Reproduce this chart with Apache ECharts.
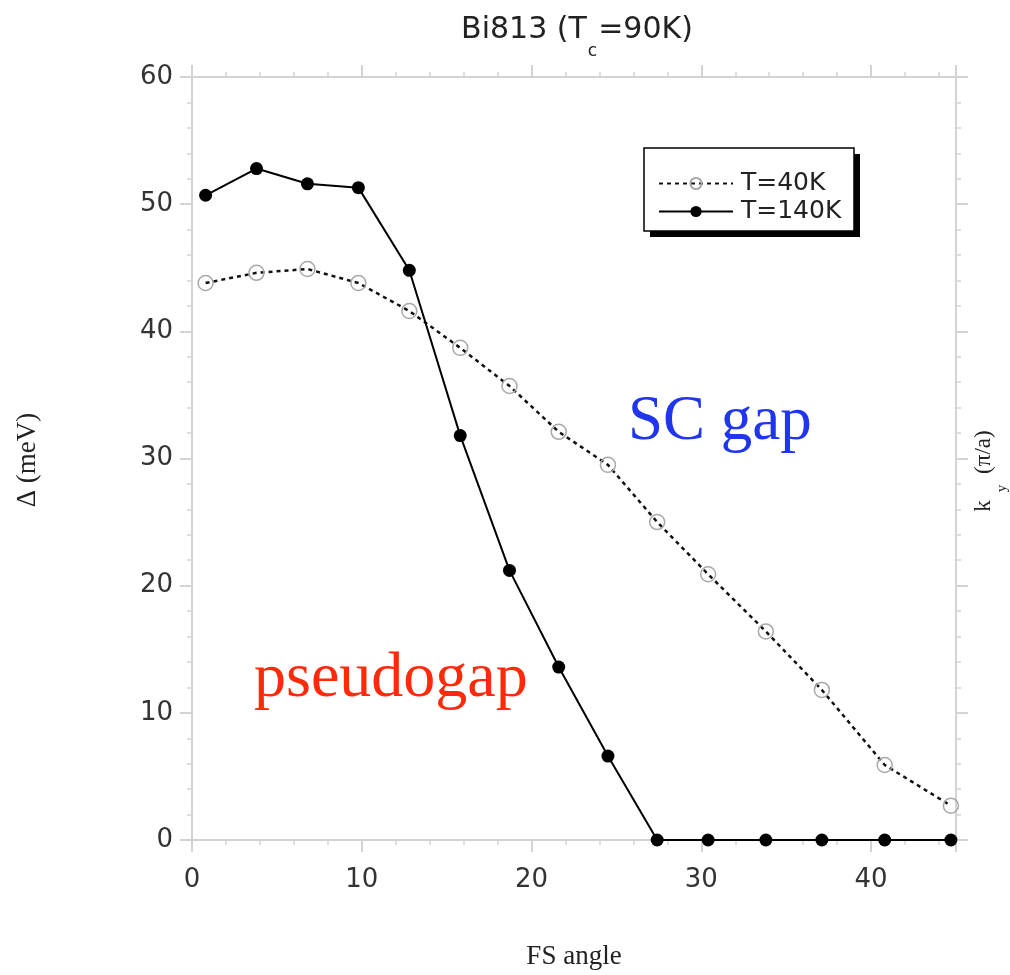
<!DOCTYPE html>
<html>
<head>
<meta charset="utf-8">
<script src="https://cdn.jsdelivr.net/npm/echarts@6/dist/echarts.min.js"></script>
<style>html,body{margin:0;padding:0;background:#fff;}#c{width:1010px;height:975px;}</style>
</head>
<body>
<div id="c"></div>
<script>
const fsAngle = [0.8, 3.8, 6.8, 9.8, 12.8, 15.8, 18.7, 21.6, 24.5, 27.4, 30.4, 33.8, 37.1, 40.8, 44.7];
const gap40K  = [43.8, 44.6, 44.9, 43.8, 41.6, 38.7, 35.7, 32.1, 29.5, 25.0, 20.9, 16.4, 11.8, 5.9, 2.7];
const gap140K = [50.7, 52.8, 51.6, 51.3, 44.8, 31.8, 21.2, 13.6, 6.6, 0, 0, 0, 0, 0, 0];
const xTicks = [0, 10, 20, 30, 40];
const yTicks = [0, 10, 20, 30, 40, 50, 60];
const seriesNames = ['T=40K', 'T=140K'];

const axisGray = '#d3d3d3';
const sans = 'DejaVu Sans, Verdana, sans-serif';
const serif = 'Liberation Serif, Times New Roman, serif';

function pairs(xs, ys) { return xs.map((x, i) => [x, ys[i]]); }

const baseAxis = {
  axisLine: { show: true, onZero: false, lineStyle: { color: axisGray, width: 2 } },
  axisTick: { show: true, inside: false, length: 12, lineStyle: { color: axisGray, width: 2 } },
  minorTick: { show: true, splitNumber: 5, length: 5, lineStyle: { color: axisGray, width: 1.5 } },
  splitLine: { show: false }
};

const chart = echarts.init(document.getElementById('c'));
chart.setOption({
  animation: false,
  backgroundColor: '#fff',
  title: {
    text: '{a|Bi813 (T}{s|c}{a|=90K)}',
    left: 577, top: 15, textAlign: 'center', padding: 0,
    textStyle: {
      rich: {
        a: { fontFamily: sans, fontSize: 30, lineHeight: 30, fontWeight: 'normal', color: '#222', verticalAlign: 'top' },
        s: { fontFamily: sans, fontSize: 17, lineHeight: 17, fontWeight: 'normal', color: '#222', verticalAlign: 'top', padding: [28, 1, 0, 1] }
      }
    }
  },
  grid: { left: 192, top: 77, right: 54, bottom: 133 },
  legend: {
    data: seriesNames,
    orient: 'vertical',
    left: 658, top: 171,
    padding: 0,
    itemGap: 3,
    itemWidth: 74, itemHeight: 14,
    z: 20,
    textStyle: { fontFamily: sans, fontSize: 25, color: '#222', padding: [0, 0, 0, 3] }
  },
  xAxis: [
    Object.assign({}, baseAxis, {
      type: 'value', position: 'bottom', min: 0, max: 45, interval: 10,
      axisLabel: { color: '#333', fontFamily: sans, fontSize: 26, margin: 27,
        formatter: v => xTicks.includes(v) ? String(v) : '' },
      name: 'FS angle', nameLocation: 'middle', nameGap: 103,
      nameTextStyle: { fontFamily: serif, fontSize: 27, color: '#222' }
    }),
    Object.assign({}, baseAxis, {
      type: 'value', position: 'top', min: 0, max: 45, interval: 10,
      axisLabel: { show: false }
    })
  ],
  yAxis: [
    Object.assign({}, baseAxis, {
      type: 'value', position: 'left', min: 0, max: 60, interval: 10,
      axisLabel: { color: '#333', fontFamily: sans, fontSize: 26, margin: 19,
        formatter: v => yTicks.includes(v) ? String(v) : '' }
    }),
    Object.assign({}, baseAxis, {
      type: 'value', position: 'right', min: 0, max: 60, interval: 10,
      axisLabel: { show: false }
    })
  ],
  series: [
    {
      name: seriesNames[0], type: 'line', xAxisIndex: 0, yAxisIndex: 0,
      data: pairs(fsAngle, gap40K),
      symbol: 'circle', symbolSize: 15,
      lineStyle: { color: '#111', width: 2.5, type: [4, 4] },
      itemStyle: { color: 'rgba(255,255,255,0)', borderColor: '#a8a8a8', borderWidth: 1.5 },
      z: 2
    },
    {
      name: seriesNames[1], type: 'line', xAxisIndex: 0, yAxisIndex: 0,
      data: pairs(fsAngle, gap140K),
      symbol: 'circle', symbolSize: 13,
      lineStyle: { color: '#000', width: 2 },
      itemStyle: { color: '#000' },
      z: 3
    }
  ],
  graphic: [
    { type: 'rect', z: 10, shape: { x: 650, y: 154, width: 210, height: 83 }, style: { fill: '#000' } },
    { type: 'rect', z: 11, shape: { x: 644, y: 148, width: 210, height: 83 }, style: { fill: '#fff', stroke: '#000', lineWidth: 1.5 } },
    { type: 'text', x: 28, y: 460, rotation: Math.PI / 2, z: 5,
      style: { text: 'Δ (meV)', fontFamily: serif, fontSize: 27, fill: '#222', align: 'center', verticalAlign: 'middle' } },
    { type: 'text', x: 984, y: 471, rotation: Math.PI / 2, z: 5,
      style: {
        text: '{a|k}{s|y}{a| (π/a)}', align: 'center', verticalAlign: 'middle',
        rich: {
          a: { fontFamily: serif, fontSize: 23, lineHeight: 23, fill: '#222', verticalAlign: 'top' },
          s: { fontFamily: serif, fontSize: 15, lineHeight: 15, fill: '#222', verticalAlign: 'top', padding: [22, 5, 0, 8] }
        }
      } },
    { type: 'text', left: 628, top: 391, z: 5, style: { text: 'SC gap', fontFamily: serif, fontSize: 63, fill: '#1f35f0' } },
    { type: 'text', left: 254, top: 647, z: 5, style: { text: 'pseudogap', fontFamily: serif, fontSize: 64, fill: '#ff2a0a' } }
  ]
});
</script>
</body>
</html>
